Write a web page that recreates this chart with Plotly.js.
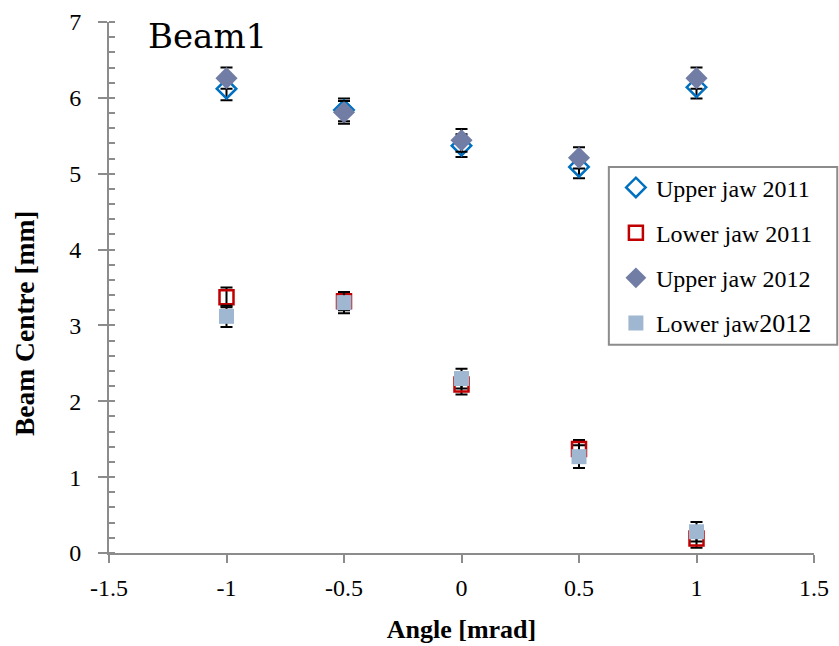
<!DOCTYPE html>
<html>
<head>
<meta charset="utf-8">
<script src="https://cdn.plot.ly/plotly-3.0.1.min.js"></script>
<style>html,body{margin:0;padding:0;background:#fff;}#chart{width:839px;height:646px;}</style>
</head>
<body>
<div id="chart"></div>
<script>
var angles = [-1, -0.5, 0, 0.5, 1];
var upper2011 = [6.12, 5.84, 5.37, 5.09, 6.14];
var upper2011Err = [0.15, 0.15, 0.15, 0.15, 0.15];
var lower2011 = [3.37, 3.32, 2.22, 1.37, 0.19];
var lower2011Err = [0.13, 0.12, 0.13, 0.12, 0.12];
var upper2012 = [6.26, 5.81, 5.44, 5.21, 6.26];
var upper2012Err = [0.14, 0.15, 0.15, 0.14, 0.14];
var lower2012 = [3.12, 3.30, 2.30, 1.27, 0.28];
var lower2012Err = [0.14, 0.14, 0.13, 0.15, 0.13];
var seriesNames = ["Upper jaw 2011", "Lower jaw 2011", "Upper jaw 2012",
                   "Lower jaw<span style='font-size:26px'>2012</span>"];
var xTickVals = [-1.5, -1, -0.5, 0, 0.5, 1, 1.5];
var xTickText = ["-1.5", "-1", "-0.5", "0", "0.5", "1", "1.5"];
var chartTitle = "Beam1";
var xTitle = "Angle [mrad]";
var yTitle = "Beam Centre [mm]";

function errBar(arr) {
  return {type: 'data', array: arr, visible: true, color: '#000000', thickness: 2, width: 6};
}

var traces = [
  {x: angles, y: upper2011, name: seriesNames[0], legendgroup: 'a', mode: 'markers', type: 'scatter',
   marker: {symbol: 'diamond-open', size: 15, color: '#0070C0', line: {width: 2.5, color: '#0070C0'}},
   error_y: errBar(upper2011Err)},
  {x: angles, y: lower2011, name: seriesNames[1], legendgroup: 'b', mode: 'markers', type: 'scatter',
   marker: {symbol: 'square-open', size: 14, color: '#C00000', line: {width: 2.5, color: '#C00000'}},
   error_y: errBar(lower2011Err)},
  {x: angles, y: upper2012, name: seriesNames[2], legendgroup: 'c', mode: 'markers', type: 'scatter',
   marker: {symbol: 'diamond', size: 17, color: '#717DA5'},
   error_y: errBar(upper2012Err)},
  {x: angles, y: lower2012, name: seriesNames[3], legendgroup: 'd', mode: 'markers', type: 'scatter',
   marker: {symbol: 'square', size: 15, color: '#9FB7D1'},
   error_y: errBar(lower2012Err)}
];

var serif = "'Liberation Serif', 'Times New Roman', serif";
var layout = {
  width: 839, height: 646,
  paper_bgcolor: '#ffffff', plot_bgcolor: '#ffffff',
  margin: {l: 109, r: 25, t: 22, b: 93, autoexpand: false},
  font: {family: serif, color: '#000000', size: 22},
  title: {text: chartTitle, font: {family: "'DejaVu Serif', serif", size: 34, color: '#000000'},
          x: 148/839, xanchor: 'left', xref: 'container', y: 1 - 36/646, yanchor: 'middle', yref: 'container'},
  showlegend: true,
  legend: {x: 0.719, xanchor: 'left', y: 0.73, yanchor: 'top', bgcolor: 'rgba(0,0,0,0)',
           borderwidth: 0, font: {family: serif, size: 24, color: '#000000'},
           traceorder: 'grouped', tracegroupgap: 11, itemwidth: 30},
  shapes: [{type: 'rect', xref: 'paper', yref: 'paper', x0: 0.709, x1: 1.033, y0: 0.392, y1: 0.727,
            line: {color: '#8c8c8c', width: 2}, fillcolor: '#ffffff', layer: 'below'}],
  annotations: [
    {text: '<b>' + yTitle + '</b>', xref: 'paper', yref: 'paper', x: -109/705 + 25/705, y: (553-323)/531,
     xanchor: 'center', yanchor: 'middle', textangle: -90, showarrow: false,
     font: {family: serif, size: 27.5, color: '#000000'}}
  ],
  xaxis: {range: [-1.5, 1.5], tickmode: 'array', tickvals: xTickVals, ticktext: xTickText,
          showgrid: false, zeroline: false,
          showline: true, linecolor: '#8c8c8c', linewidth: 2, ticks: 'outside', ticklen: 8,
          tickcolor: '#8c8c8c', tickwidth: 2, tickfont: {family: serif, size: 24, color: '#000000'},
          ticklabelstandoff: 4,
          title: {text: '<b>' + xTitle + '</b>', font: {family: serif, size: 26, color: '#000000'}, standoff: 20}},
  yaxis: {range: [0, 7], dtick: 1, tick0: 0, showgrid: false, zeroline: false,
          showline: true, linecolor: '#8c8c8c', linewidth: 2, ticks: 'outside', ticklen: 9,
          tickcolor: '#8c8c8c', tickwidth: 2, tickfont: {family: serif, size: 24, color: '#000000'},
          ticklabelstandoff: 12,
          minor: {dtick: 0.2, ticks: 'inside', ticklen: 6, tickcolor: '#8c8c8c', tickwidth: 2, showgrid: false}},
  yaxis2: {overlaying: 'y', side: 'left', anchor: 'x', range: [0, 7], dtick: 1, tick0: 0, showgrid: false,
           zeroline: false, showline: false, ticks: 'inside', ticklen: 6, tickcolor: '#8c8c8c', tickwidth: 2,
           showticklabels: false}
};

Plotly.newPlot('chart', traces, layout, {displayModeBar: false, staticPlot: true});
</script>
</body>
</html>
